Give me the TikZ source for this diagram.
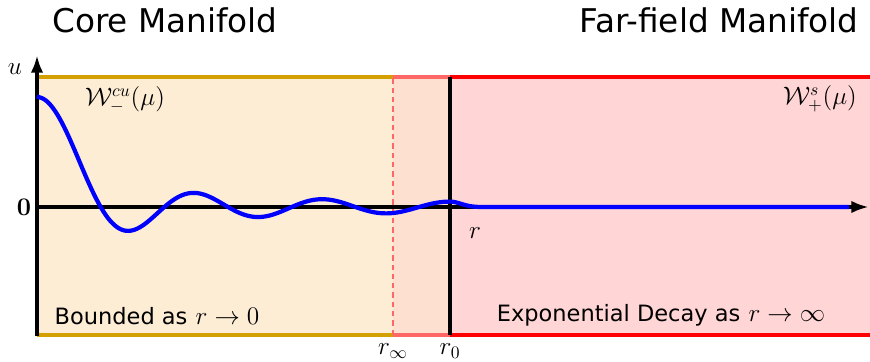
\documentclass[tikz,border=0pt]{standalone}
\usepackage[no-math]{fontspec}
\usepackage{amsmath, amssymb}
\usepackage{tikz}
\usetikzlibrary{arrows.meta}
\newfontfamily\labelfont{DejaVu Sans}
\newcommand{\mathsz}{\fontsize{14.5}{17}\selectfont}
\newcommand{\textsz}{\labelfont\fontsize{12.8}{15}\selectfont}
\definecolor{CoreFill}{RGB}{253, 237, 213}
\definecolor{MidFill}{RGB}{253, 224, 208}
\definecolor{FarFill}{RGB}{255, 213, 213}
\definecolor{CoreLine}{RGB}{212, 160, 0}
\definecolor{MidLine}{RGB}{255, 102, 102}
\definecolor{FarLine}{RGB}{255, 0, 0}

\begin{document}
\begin{tikzpicture}[x=0.02cm, y=0.02cm, font=\mathsz,
    axis/.style={line width=2pt, -{Latex[length=10pt, width=7pt]}},
    border/.style={line width=1.8pt},
    title/.style={font=\labelfont\fontsize{18.6}{22}\selectfont}]
    \useasboundingbox (-37,-155) rectangle (833,207);

    % Shade regions
    \fill[CoreFill] (0,-128) rectangle (356,130);
    \fill[MidFill] (356,-128) rectangle (413,130);
    \fill[FarFill] (413,-128) rectangle (833,130);

    % Region borders
    \draw[border, CoreLine] (0,130) -- (356,130) (0,-128) -- (356,-128);
    \draw[border, MidLine] (356,130) -- (413,130) (356,-128) -- (413,-128);
    \draw[border, FarLine] (413,130) -- (833,130) (413,-128) -- (833,-128);
    \draw[line width=1.6pt, MidLine, dash pattern=on 3pt off 2.3pt] (356,-128) -- (356,130);
    \draw[border] (413,-128) -- (413,130);

    % Axes
    \draw[axis] (0,-129) -- (0,152);
    \draw[axis] (0,0) -- (832,0);

    % Solution
    \draw[blue, line width=2.4pt, line join=round]
      plot[domain=0.001:20.371, samples=200] ({20.27*\x},{110*sin(\x r)/\x})
      -- plot[domain=20.371:23, samples=40] ({20.27*\x},{110*sin(\x r)/\x*exp(0-((\x-20.371)/0.9)^2)})
      -- (812,0);

    % Labels
    \node[title] (coretitle) at (128,187) {Core Manifold};
    \node[title] (fartitle) at (682,187) {Far-field Manifold};
    \node (ulabel) at (-22,138) {$u$};
    \node (zerolabel) at (-13,0) {$\mathbf{0}$};
    \node (rlabel) at (438,-26) {$r$};
    \node (rinf) at (356,-144) {$r_\infty$};
    \node (rzero) at (413,-144) {$r_0$};
    \node (coreset) at (88,107) {$\mathcal{W}^{cu}_{-}(\mu)$};
    \node (farset) at (783,108) {$\mathcal{W}^{s}_{+}(\mu)$};
    \node (bounded) at (120,-109) {{\textsz Bounded as} $r\to0$};
    \node (decay) at (624,-108) {{\textsz Exponential Decay as} $r\to\infty$};
\end{tikzpicture}
\end{document}
